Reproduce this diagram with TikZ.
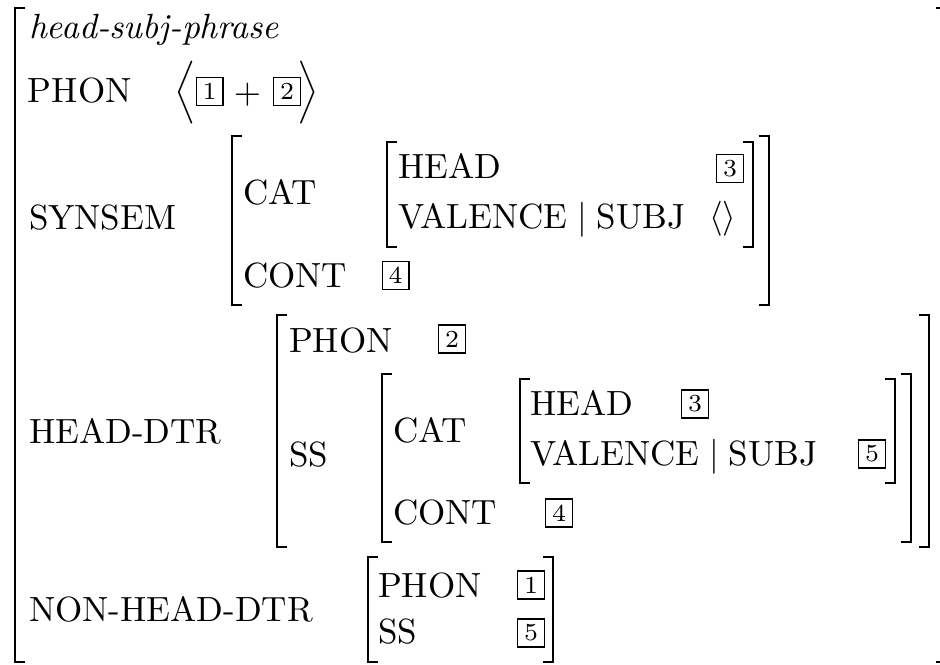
\documentclass[tikz,border=0pt]{standalone}
\newcommand{\avmbrk}[4]{%
  \draw[brk] (#1+10,#3) -- (#1,#3) -- (#1,#4) -- (#1+10,#4);
  \draw[brk] (#2-10,#3) -- (#2,#3) -- (#2,#4) -- (#2-10,#4);}
\begin{document}
\begin{tikzpicture}[x=0.285714pt, y=-0.285714pt,
  lab/.style={anchor=base west, inner sep=0pt, outer sep=0pt, font=\normalsize},
  tag/.style={draw, line width=0.4pt, inner sep=0pt, minimum width=7.6pt, minimum height=8pt, font=\scriptsize},
  sym/.style={inner sep=0pt, outer sep=0pt},
  brk/.style={line width=0.45pt}]
\clip (0,0) rectangle (940,664);
% brackets
\avmbrk{15}{946}{8}{662}
\avmbrk{232}{769}{136}{305}
\avmbrk{387}{753}{142}{247}
\avmbrk{277}{929}{315}{547}
\avmbrk{382}{911}{374}{542}
\avmbrk{520}{895}{379}{483}
\avmbrk{368}{553}{557}{662}
% type
\node[lab] (type) at (29,38) {\itshape head-subj-phrase};
% PHON
\node[lab] (phon) at (28,102) {PHON};
\node[sym] (la) at (185,92.5) {$\Big\langle$};
\node[tag] (t1a) at (209.5,91.5) {1};
\node[sym] (plus) at (247.5,95) {$+$};
\node[tag] (t2a) at (287,91.5) {2};
\node[sym] (ra) at (308.5,92.5) {$\Big\rangle$};
% SYNSEM
\node[lab] (synsem) at (29,229) {SYNSEM};
\node[lab] (cat1) at (243,204) {CAT};
\node[lab] (cont1) at (243,287) {CONT};
\node[tag] (t4a) at (395.5,275.5) {4};
\node[lab] (head1) at (398,178) {HEAD};
\node[lab] (val1) at (398,228) {VALENCE$\;|\;$SUBJ};
\node[tag] (t3a) at (730,168.5) {3};
\node[sym] (empty) at (723,218.5) {$\langle\rangle$};
% HEAD-DTR
\node[lab] (hd) at (29,443) {HEAD-DTR};
\node[lab] (phon2) at (289,352) {PHON};
\node[tag] (t2b) at (452,339) {2};
\node[lab] (ss2) at (289,466) {SS};
\node[lab] (cat2) at (393,442) {CAT};
\node[lab] (cont2) at (393,524) {CONT};
\node[tag] (t4b) at (559,513) {4};
\node[lab] (head2) at (530,415) {HEAD};
\node[tag] (t3b) at (695,404) {3};
\node[lab] (val2) at (530,465) {VALENCE$\;|\;$SUBJ};
\node[tag] (t5a) at (872,454) {5};
% NON-HEAD-DTR
\node[lab] (nhd) at (29,621) {NON-HEAD-DTR};
\node[lab] (phon3) at (378,597) {PHON};
\node[tag] (t1b) at (531,585) {1};
\node[lab] (ss3) at (378,643) {SS};
\node[tag] (t5b) at (531,633) {5};
\end{tikzpicture}
\end{document}
